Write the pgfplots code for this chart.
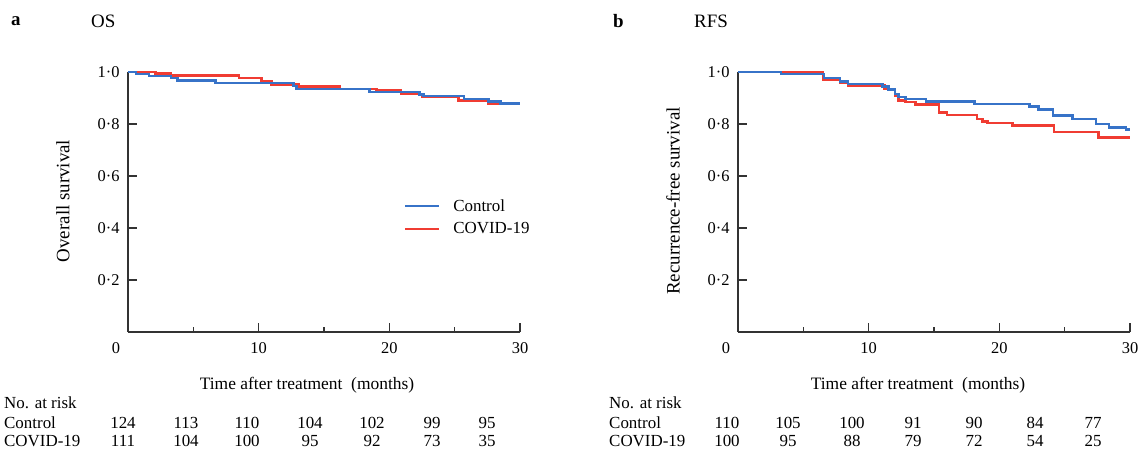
\documentclass[border=0pt]{standalone}
\usepackage{fontspec}
\setmainfont{Liberation Serif}
\usepackage{pgfplots}
\pgfplotsset{compat=1.18}
\definecolor{ctrl}{RGB}{55,115,200}
\definecolor{covid}{RGB}{240,60,50}
\newcommand{\fs}{\fontsize{17}{20}\selectfont}
\newcommand{\fst}{\fontsize{16.5}{20}\selectfont}
\newcommand{\fsy}{\fontsize{19}{22}\selectfont}
\pgfplotsset{km/.style={
    scale only axis, width=392bp, height=260bp,
    xmin=0, xmax=30, ymin=0, ymax=1,
    axis lines=left,
    axis line style={-, black!80, line width=1.3bp},
    xtick={10,20,30}, xticklabels={10,20,30},
    minor xtick={5,15,25},
    ytick={0.2,0.4,0.6,0.8,1}, yticklabels={0·2,0·4,0·6,0·8,1·0},
    tick align=inside,
    major tick length=9bp, minor tick length=5bp,
    tick style={black!80, line width=1.3bp},
    ticklabel style={font=\fst},
    yticklabel style={xshift=-5bp},
    xticklabel style={yshift=-7bp},
    clip=false,
    reverse legend,
    legend style={draw=none, fill=none, font=\fs, row sep=8bp, inner sep=0pt,
      nodes={inner sep=1bp}},
    legend cell align=left,
    legend image code/.code={\draw[#1, line width=2.5bp] (0bp,0bp) -- (34bp,0bp);
      \path (46bp,0bp);},
    every axis plot/.append style={line width=2.5bp, const plot},
}}
\begin{document}
\begin{tikzpicture}
\useasboundingbox (0,0) rectangle (1141bp,-454bp);
% panel a
\begin{axis}[km, at={(128bp,-332bp)}, anchor=south west,
    legend style={at={(0.703,0.515)}, anchor=north west}]
\addplot[covid] coordinates {(0,1) (2.1,0.995) (3.3,0.986) (8.5,0.976) (10.2,0.963)
  (11.0,0.952) (13.1,0.944) (16.2,0.935) (19.0,0.928) (20.9,0.915) (22.5,0.905)
  (25.3,0.89) (27.6,0.876) (30,0.876)};
\addlegendentry{COVID-19}
\addplot[ctrl] coordinates {(0,1) (0.6,0.992) (1.6,0.985) (3.3,0.977) (3.8,0.967)
  (6.7,0.958) (12.65,0.947) (12.9,0.935) (18.5,0.923) (22.3,0.913) (22.6,0.908)
  (25.7,0.896) (27.6,0.887) (28.5,0.879) (30,0.879)};
\addlegendentry{Control}
\end{axis}
% panel b
\begin{axis}[km, at={(738bp,-332bp)}, anchor=south west]
\addplot[covid] coordinates {(0,1) (6.5,0.972) (7.8,0.959) (8.4,0.948) (11.2,0.935)
  (12.0,0.91) (12.3,0.89) (12.8,0.884) (13.6,0.875) (15.4,0.845) (16.0,0.835)
  (18.3,0.819) (18.7,0.809) (19.1,0.804) (21.0,0.794) (24.2,0.77) (27.6,0.748) (30,0.748)};
\addplot[ctrl] coordinates {(0,1) (3.3,0.992) (6.6,0.977) (7.8,0.964) (8.4,0.954)
  (11.05,0.945) (11.5,0.933) (12.0,0.916) (12.3,0.903) (12.8,0.897) (14.4,0.886)
  (18.1,0.877) (22.3,0.867) (23.0,0.855) (24.1,0.832) (25.6,0.819) (27.4,0.80)
  (28.4,0.787) (29.7,0.778) (30,0.778)};
\end{axis}
\begin{scope}[every node/.style={font=\fs, inner sep=0pt}]
% titles
\node[anchor=west, font=\fsy\bfseries] at (11bp,-21bp) {a};
\node[anchor=west, font=\fsy] at (91bp,-21bp) {OS};
\node[anchor=west, font=\fsy\bfseries] at (613bp,-21bp) {b};
\node[anchor=west, font=\fsy] at (694bp,-21bp) {RFS};
% origin labels
\node[font=\fst] at (116bp,-348bp) {0};
\node[font=\fst] at (726bp,-348bp) {0};
% axis labels
\node[rotate=90, font=\fsy] at (63bp,-201bp) {Overall survival};
\node[rotate=90, font=\fsy] at (673bp,-201bp) {Recurrence-free survival};
\node[font=\fontsize{17.5}{20}\selectfont] at (307bp,-385bp) {Time after treatment\ \ (months)};
\node[font=\fontsize{17.5}{20}\selectfont] at (918bp,-385bp) {Time after treatment\ \ (months)};
% numbers at risk
\node[anchor=west] at (4bp,-403bp) {No. at risk};
\node[anchor=west] at (4bp,-423bp) {Control};
\node[anchor=west] at (4bp,-441bp) {COVID-19};
\foreach \x/\c/\v in {123/124/111, 186/113/104, 247/110/100, 310/104/95, 372/102/92, 432/99/73, 487/95/35}{
  \node at (\x bp,-423bp) {\c};
  \node at (\x bp,-441bp) {\v};
}
\node[anchor=west] at (609bp,-403bp) {No. at risk};
\node[anchor=west] at (609bp,-423bp) {Control};
\node[anchor=west] at (609bp,-441bp) {COVID-19};
\foreach \x/\c/\v in {727/110/100, 788/105/95, 852/100/88, 913/91/79, 974/90/72, 1035/84/54, 1093/77/25}{
  \node at (\x bp,-423bp) {\c};
  \node at (\x bp,-441bp) {\v};
}
\end{scope}
\end{tikzpicture}
\end{document}
